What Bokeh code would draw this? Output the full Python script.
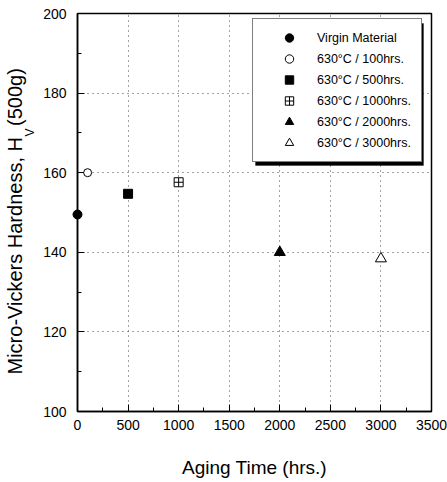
from bokeh.plotting import figure
from bokeh.models import (Range1d, SingleIntervalTicker, Legend, LegendItem,
                          Title, BoxAnnotation)
from bokeh.embed import file_html
from bokeh.resources import INLINE

# ---- data ----
series_labels = ["Virgin Material", "630°C / 100hrs.", "630°C / 500hrs.",
                 "630°C / 1000hrs.", "630°C / 2000hrs.", "630°C / 3000hrs."]
aging_time = [0, 100, 500, 1000, 2000, 3000]
hardness = [149.5, 160.0, 154.7, 157.6, 140.0, 138.4]
markers = ["circle", "circle", "square", "square_cross", "triangle", "triangle"]
fills = ["black", "white", "black", "white", "black", "white"]
sizes = [9, 8, 9, 9, 11, 11]

x_ticks_interval = 500
y_ticks_interval = 20

W, H = 447, 482
BL, BR, BT, BB = 77, 16, 13, 71
FONT = "Liberation Sans"

p = figure(width=W, height=H, output_backend="svg", toolbar_location=None,
           x_range=Range1d(0, 3500), y_range=Range1d(100, 200),
           min_border_left=BL, min_border_right=BR, min_border_top=BT,
           min_border_bottom=BB)
p.background_fill_color = "white"
p.border_fill_color = "white"
p.outline_line_color = "black"
p.outline_line_width = 1.5

p.xaxis.ticker = SingleIntervalTicker(interval=x_ticks_interval, num_minor_ticks=2)
p.yaxis.ticker = SingleIntervalTicker(interval=y_ticks_interval, num_minor_ticks=2)
for ax in (p.xaxis[0], p.yaxis[0]):
    ax.axis_line_color = "black"
    ax.axis_line_width = 1.5
    ax.major_tick_in = 7
    ax.major_tick_out = 0
    ax.minor_tick_in = 4
    ax.minor_tick_out = 0
    ax.major_tick_line_color = "black"
    ax.minor_tick_line_color = "black"
    ax.major_label_text_font = FONT
    ax.major_label_text_font_size = "14px"
    ax.major_label_text_color = "black"
p.xaxis.major_label_standoff = 8
p.yaxis.major_label_standoff = 11

p.xaxis.axis_label = "Aging Time (hrs.)"
p.xaxis.axis_label_text_font = FONT
p.xaxis.axis_label_text_font_size = "19px"
p.xaxis.axis_label_text_font_style = "normal"
p.xaxis.axis_label_text_color = "black"
p.xaxis.axis_label_standoff = 24

for g in (p.xgrid[0], p.ygrid[0]):
    g.grid_line_color = "#444444"
    g.grid_line_dash = "1 4"
    g.grid_line_width = 1

renderers = []
for i in range(len(aging_time)):
    r = p.scatter([aging_time[i]], [hardness[i]], marker=markers[i], size=sizes[i],
                  fill_color=fills[i], line_color="black", line_width=1,
                  level="overlay")
    renderers.append(r)

# y-axis label: main text and subscript V as side titles (read bottom to top)
y_label_main = "Micro-Vickers Hardness, H\u00a0\u00a0(500g)"
y_label_sub = "V"
sub_title = Title(text=y_label_sub, align="left", offset=275, vertical_align="bottom",
                  standoff=8, text_font=FONT, text_font_size="12px",
                  text_font_style="normal", text_color="black")
main_title = Title(text=y_label_main, align="left", offset=37, vertical_align="bottom",
                   standoff=-19, text_font=FONT, text_font_size="20px",
                   text_font_style="normal", text_color="black")
p.add_layout(sub_title, "left")
p.add_layout(main_title, "left")

# legend shadow
fw = W - BL - BR
ppu = (H - BT - BB) / 100.0
lg_left_px, lg_bottom_px, lg_w, lg_h = 175, 249, 168, 142
sh = 3
def xd(px):
    return px / fw * 3500
def yd(px):
    return 100 + px / ppu
p.add_layout(BoxAnnotation(left=xd(lg_left_px + sh), right=xd(lg_left_px + lg_w + sh),
                           bottom=yd(lg_bottom_px - sh), top=yd(lg_bottom_px + lg_h - sh),
                           fill_color="black", fill_alpha=1, line_color="black"))

legend = Legend(items=[LegendItem(label=series_labels[i], renderers=[renderers[i]])
                       for i in range(len(series_labels))],
                location=(lg_left_px, lg_bottom_px),
                padding=8, spacing=0, margin=0,
                glyph_width=56, glyph_height=21, label_height=21, label_width=96,
                label_standoff=0,
                label_text_font=FONT, label_text_font_size="12.5px",
                label_text_color="black",
                border_line_color="black", border_line_width=1.5,
                background_fill_color="white", background_fill_alpha=1)
p.add_layout(legend)

open("out.html", "w").write(file_html(p, INLINE))
